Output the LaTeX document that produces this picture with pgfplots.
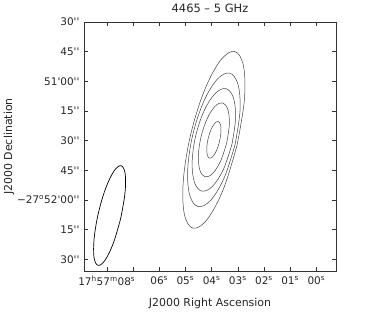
\documentclass[border=0pt]{standalone}
\usepackage{pgfplots}
\pgfplotsset{compat=1.18}
\usepackage{fontspec}
\setmainfont{DejaVu Sans}
\newcommand\as{\textquotesingle\textquotesingle}
\newcommand\am{\textquotesingle}
\newcommand\su[1]{\textsuperscript{#1}}
\begin{document}
\begin{tikzpicture}
\path[use as bounding box] (-84bp,-44bp) rectangle (298bp,271bp);
\begin{axis}[
  at={(0,0)}, anchor=south west,
  scale only axis, width=252bp, height=249bp,
  x dir=reverse,
  xmin=-0.75, xmax=8.87, ymin=-35.9, ymax=90,
  axis line style={black!80, line width=0.5bp},
  tick style={black!80, line width=0.5bp},
  tick align=inside, major tick length=4bp,
  xtick={8,7,6,5,4,3,2,1,0},
  xticklabels={17\su{h}57\su{m}08\su{s},,06\su{s},05\su{s},04\su{s},03\su{s},02\su{s},01\su{s},00\su{s}},
  ytick={90,75,60,45,30,15,0,-15,-30},
  yticklabels={30\as,45\as,51\am00\as,15\as,30\as,45\as,{\textminus27\su{o}52\am00\as},15\as,30\as},
  tick label style={font=\fontsize{10.5}{12}\selectfont, black!85},
  xticklabel style={yshift=-1.5bp},
  yticklabel style={xshift=-1bp},
  title={4465 \textendash\ 5 GHz},
  title style={at={(axis description cs:0.5,1)}, anchor=south, inner sep=0pt, yshift=3bp, font=\fontsize{11.5}{13}\selectfont, black!85},
  xlabel={J2000 Right Ascension},
  xlabel style={at={(axis description cs:0.5,-0.1305)}, anchor=center, font=\fontsize{11}{13}\selectfont, black!85},
  ylabel={J2000 Declination},
  ylabel style={at={(axis description cs:-0.2976,0.5)}, anchor=center, font=\fontsize{11}{13}\selectfont, black!85},
]
% beam
\addplot[black, line width=0.7bp, smooth, tension=0.6, mark=none] coordinates {
(7.466,-9.17) (7.743,-21.59) (8.060,-30.34) (8.332,-33.06) (8.487,-29.03) (8.482,-19.33)
(8.320,-6.55) (8.043,5.87) (7.726,14.62) (7.454,17.34) (7.299,13.31) (7.304,3.61) (7.466,-9.17)};
% contour 1
\addplot[black!75, line width=0.5bp, smooth, tension=0.6, mark=none] coordinates {
(3.028,27.64) (3.544,5.67) (4.159,-9.67) (4.707,-14.27) (5.043,-6.89) (5.075,10.47)
(4.796,33.18) (4.280,55.15) (3.665,70.49) (3.117,75.09) (2.781,67.71) (2.749,50.35) (3.028,27.64)};
% contour 2
\addplot[black!75, line width=0.5bp, smooth, tension=0.6, mark=none] coordinates {
(3.106,27.88) (3.514,11.35) (4.029,-0.07) (4.513,-3.32) (4.835,2.46) (4.910,15.73)
(4.718,32.94) (4.310,49.47) (3.795,60.89) (3.312,64.14) (2.989,58.36) (2.914,45.09) (3.106,27.88)};
% contour 3
\addplot[black!75, line width=0.5bp, smooth, tension=0.6, mark=none] coordinates {
(3.221,28.24) (3.544,15.58) (3.966,6.91) (4.373,4.52) (4.657,9.07) (4.741,19.34)
(4.603,32.58) (4.280,45.24) (3.858,53.91) (3.451,56.30) (3.168,51.75) (3.083,41.48) (3.221,28.24)};
% contour 4
\addplot[black!75, line width=0.5bp, smooth, tension=0.6, mark=none] coordinates {
(3.422,28.87) (3.654,19.73) (3.955,13.45) (4.245,11.72) (4.445,14.99) (4.503,22.40)
(4.402,31.95) (4.170,41.09) (3.869,47.37) (3.579,49.10) (3.379,45.83) (3.321,38.42) (3.422,28.87)};
% contour 5
\addplot[black!75, line width=0.5bp, smooth, tension=0.6, mark=none] coordinates {
(3.693,29.72) (3.805,25.18) (3.945,22.04) (4.077,21.14) (4.164,22.72) (4.184,26.37)
(4.131,31.10) (4.019,35.64) (3.879,38.78) (3.747,39.68) (3.660,38.10) (3.640,34.45) (3.693,29.72)};
\end{axis}
\end{tikzpicture}
\end{document}
